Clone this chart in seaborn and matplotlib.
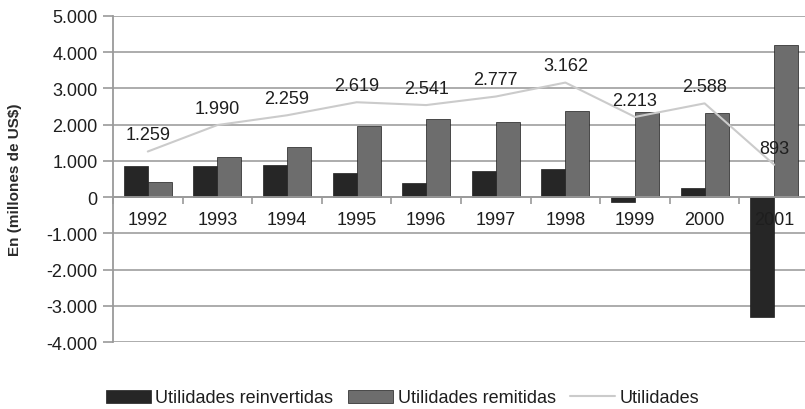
import numpy as np
import pandas as pd
import matplotlib
matplotlib.use("Agg")
import matplotlib.pyplot as plt
import seaborn as sns
from matplotlib.ticker import FuncFormatter, FixedLocator

years = ["1992", "1993", "1994", "1995", "1996", "1997", "1998", "1999", "2000", "2001"]
reinvertidas = [850, 870, 900, 670, 390, 710, 780, -140, 250, -3320]
remitidas = [410, 1110, 1370, 1960, 2150, 2060, 2380, 2350, 2330, 4210]
utilidades = [1259, 1990, 2259, 2619, 2541, 2777, 3162, 2213, 2588, 893]
series_names = ["Utilidades reinvertidas", "Utilidades remitidas", "Utilidades"]
yticks = [-4000, -3000, -2000, -1000, 0, 1000, 2000, 3000, 4000, 5000]

sns.set_theme(style="white")
plt.rcParams['font.family'] = ['Liberation Sans', 'DejaVu Sans']

df = pd.DataFrame({
    "year": years * 2,
    "value": reinvertidas + remitidas,
    "serie": [series_names[0]] * len(years) + [series_names[1]] * len(years),
})

fig = plt.figure(figsize=(8.05, 4.10), dpi=100)
ax = fig.add_axes([113 / 805, 1 - 343 / 410, 696 / 805, (343 - 17) / 410])

palette = {series_names[0]: "#262626", series_names[1]: "#6d6d6d"}
sns.barplot(data=df, x="year", y="value", hue="serie", palette=palette,
            width=0.69, dodge=True, gap=0, ax=ax, saturation=1,
            edgecolor="#1e1e1e", linewidth=0.5, errorbar=None, zorder=1)

x_idx = np.arange(len(years))
sns.lineplot(x=x_idx, y=utilidades, color="#cbcbcb", linewidth=1.5, ax=ax,
             label=series_names[2], zorder=3)

for i, v in enumerate(utilidades):
    ax.annotate(f"{v:,}".replace(",", "."), (i, v), xytext=(0, 12),
                textcoords="offset points", ha="center", va="center",
                fontsize=13, color="#1e1e1e", zorder=5)

ax.set_ylim(-4000, 5000)
ax.set_xlim(-0.5, len(years) - 0.5)
ax.set_yticks(yticks)
ax.yaxis.set_major_formatter(FuncFormatter(lambda v, p: f"{int(v):,}".replace(",", ".")))
ax.grid(False)
for t in yticks:
    ax.axhline(t, color="#a6a6a6", linewidth=1.3, zorder=0.5)
ax.set_axisbelow(False)

for s in ["top", "right"]:
    ax.spines[s].set_visible(False)
ax.spines["left"].set_color("#9a9a9a")
ax.spines["left"].set_linewidth(1.3)
ax.spines["bottom"].set_position(("data", 0))
ax.spines["bottom"].set_color("#9a9a9a")
ax.spines["bottom"].set_linewidth(1.3)

ax.tick_params(axis="y", which="major", left=True, length=7, width=1.2, color="#9a9a9a",
               labelsize=13, labelcolor="#1e1e1e", pad=4)
ax.tick_params(axis="x", which="major", bottom=False, length=0, labelsize=13,
               labelcolor="#1e1e1e", pad=10)
ax.xaxis.set_minor_locator(FixedLocator(np.arange(-0.5, len(years), 1.0)))
ax.tick_params(axis="x", which="minor", bottom=True, length=5, width=1.2, color="#9a9a9a")

ax.set_xlabel("")
ax.set_ylabel("")
fig.text(15 / 805, 1 - 180 / 410, "En (millones de US$)", rotation=90, ha="center",
         va="center", fontsize=11, fontweight="bold", color="#2a2a2a")

handles, labels = ax.get_legend_handles_labels()
ax.get_legend().remove()
order = [labels.index(n) for n in series_names]
fig.legend([handles[i] for i in order], [labels[i] for i in order],
           loc="center", bbox_to_anchor=(0.5, 1 - 399 / 410), ncol=3, frameon=False,
           fontsize=13, handlelength=2.5, handleheight=0.75, handletextpad=0.25,
           columnspacing=0.8, labelcolor="#1e1e1e")

fig.savefig("out.png", dpi=100)
